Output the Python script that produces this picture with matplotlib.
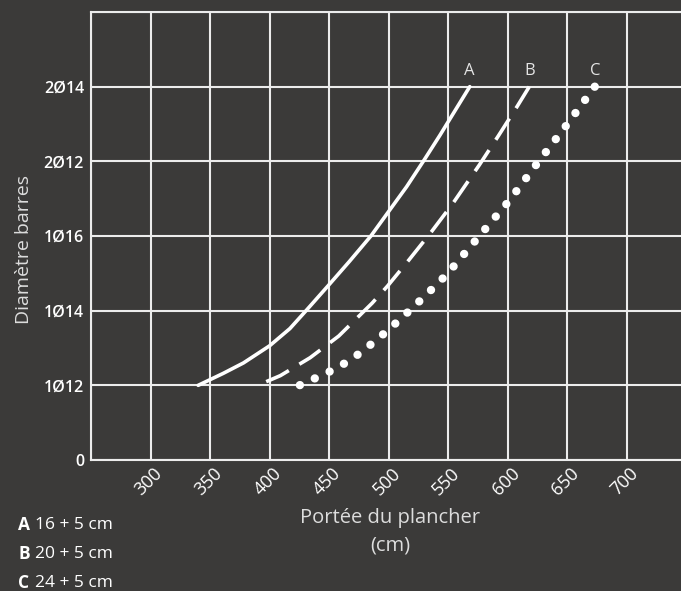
import matplotlib
matplotlib.use("Agg")
import matplotlib.pyplot as plt
import matplotlib.transforms as mtransforms

# ---- data ----
y_labels = ["0", "1Ø12", "1Ø14", "1Ø16", "2Ø12", "2Ø14", ""]
x_ticks = [250, 300, 350, 400, 450, 500, 550, 600, 650, 700, 750]
x_labels = ["", "300", "350", "400", "450", "500", "550", "600", "650", "700", ""]

a_x = [340, 361, 378, 400, 417, 430, 450, 467, 485, 500, 515, 529, 543, 568]
a_y = [1.0, 1.16, 1.3, 1.53, 1.76, 1.99, 2.35, 2.66, 3.0, 3.33, 3.66, 4.0, 4.35, 5.0]

b_x = [390, 409, 434, 458, 472, 486, 499, 517, 536, 554, 576, 592, 608, 618]
b_y = [1.0, 1.13, 1.37, 1.66, 1.88, 2.1, 2.33, 2.68, 3.06, 3.44, 3.95, 4.34, 4.74, 5.0]

c_x = [425, 433, 445, 457, 469, 490, 510, 530, 549, 575, 601, 625, 650, 673]
c_y = [1.0, 1.06, 1.14, 1.24, 1.35, 1.61, 1.89, 2.19, 2.49, 2.98, 3.47, 3.98, 4.5, 5.0]

series_names = ["A", "B", "C"]
legend_labels = ["16 + 5 cm", "20 + 5 cm", "24 + 5 cm"]

BG = "#3b3a39"
GRID = "#ececec"
FONT = ["Open Sans", "DejaVu Sans"]

W, H = 681, 591
fig = plt.figure(figsize=(W / 100, H / 100), dpi=100, facecolor=BG)
left, right_px, top_px, bot_px = 91, 686.5, 12, 460
ax = fig.add_axes([left / W, (H - bot_px) / H, (right_px - left) / W, (bot_px - top_px) / H])
ax.set_facecolor(BG)
ax.set_xlim(250, 750)
ax.set_ylim(0, 6)

ax.set_xticks(x_ticks)
ax.set_yticks(range(len(y_labels)))
ax.grid(True, color=GRID, linewidth=1.5)
ax.set_axisbelow(True)
ax.tick_params(length=0)
ax.set_xticklabels(x_labels, rotation=45, ha="center", va="center",
                   rotation_mode="anchor", color="white", fontsize=13, family=FONT)
ax.set_yticklabels(y_labels, color="white", fontsize=11.5, family=FONT, weight="semibold")
ax.tick_params(axis="x", pad=15.5)
ax.tick_params(axis="y", pad=5)
offset = mtransforms.ScaledTranslation(-2 / 100, 0, fig.dpi_scale_trans)
for lab in ax.get_xticklabels():
    lab.set_transform(lab.get_transform() + offset)

for s in ["left", "bottom", "top"]:
    ax.spines[s].set_color(GRID)
    ax.spines[s].set_linewidth(1.5)
ax.spines["right"].set_visible(False)

lw = 2.6
ax.plot(a_x, a_y, color="white", linewidth=lw, solid_capstyle="round")
ax.plot(b_x[::-1], b_y[::-1], color="white", linewidth=lw, linestyle=(0, (7, 3.4)), dash_capstyle="butt")
ax.plot(c_x[::-1], c_y[::-1], color="white", linewidth=6.0, linestyle=(0, (0.01, 1.95)), dash_capstyle="round")

ends = [(a_x[-1], a_y[-1]), (b_x[-1], b_y[-1]), (c_x[-1], c_y[-1])]
for name, (ex, ey) in zip(series_names, ends):
    ax.text(ex, ey + 0.1, name, color="#e4e4e4", fontsize=12, family=FONT,
            ha="center", va="bottom")

fig.text(390 / W, 1 - 518 / H, "Portée du plancher", color="#dddddd", fontsize=14.5,
         family=FONT, ha="center", va="center")
fig.text(390 / W, 1 - 546 / H, "(cm)", color="#dddddd", fontsize=14.5,
         family=FONT, ha="center", va="center")
fig.text(24 / W, 1 - 250 / H, "Diamètre barres", color="#dddddd", fontsize=14,
         family=FONT, ha="center", va="center", rotation=90)

for i, (name, lab) in enumerate(zip(series_names, legend_labels)):
    y = 1 - (525 + i * 29) / H
    fig.text(18 / W, y, name, color="white", fontsize=12.5, family=FONT,
             weight="bold", ha="left", va="center")
    fig.text(35 / W, y, lab, color="white", fontsize=12.5, family=FONT,
             ha="left", va="center")

fig.savefig("out.png", dpi=100, facecolor=BG)
